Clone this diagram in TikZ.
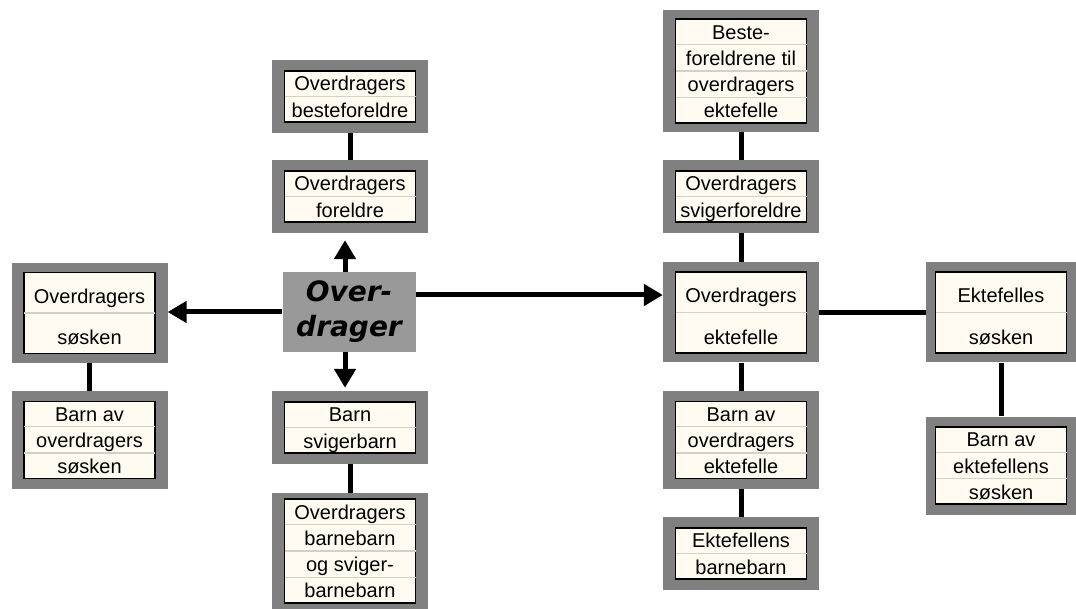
\documentclass[tikz,border=0pt]{standalone}
\usepackage{fontspec}
\setmainfont{Liberation Sans}
\newfontfamily\odfont{DejaVu Sans}
\usepackage{array}
\usepackage{colortbl}
\usetikzlibrary{arrows.meta}
\definecolor{framegray}{HTML}{808080}
\definecolor{cream}{HTML}{FFFBF0}
\definecolor{sepgray}{HTML}{D4D0C8}
\definecolor{odgray}{HTML}{999999}
\arrayrulecolor{sepgray}
\setlength{\arrayrulewidth}{1.2pt}
\renewcommand{\arraystretch}{0}
\newcolumntype{R}{>{\centering\arraybackslash\rule[-5pt]{0pt}{25pt}}p{131pt}}
\newcolumntype{T}{>{\centering\arraybackslash\rule[-9pt]{0pt}{40pt}}p{131pt}}
\newcommand{\rader}[2][R]{\begin{tabular}{@{}#1@{}}#2\end{tabular}}

\begin{document}
\begin{tikzpicture}[x=1pt, y=-1pt,
    frame/.style={fill=framegray, inner sep=0pt},
    inner/.style={fill=cream, draw=black, line width=1.5pt, inner sep=0pt, font=\fontsize{20}{25}\selectfont},
    rel/.style={line width=5pt},
    arr/.style={line width=5pt, -{Triangle[length=19pt, width=21pt]}}]
\useasboundingbox (0,0) rectangle (1076,609);
\foreach \nm/\cx/\cy/\bw/\bh/\txt in {
    bf/350/96.5/156/73/{\rader{Overdragers\\\hline besteforeldre}},
    for/350/196.5/156/73/{\rader{Overdragers\\\hline foreldre}},
    sos/89.5/313/156/100/{\rader[T]{Overdragers\\\hline s{\o}sken}},
    bsos/89.5/440/156/98/{\rader{Barn av\\\hline overdragers\\\hline s{\o}sken}},
    barn/350/427.5/156/73/{\rader{Barn\\\hline svigerbarn}},
    bb/350/551/156/116/{\rader{Overdragers\\\hline barnebarn\\\hline og sviger-\\\hline barnebarn}},
    bfe/741/71/156/122/{\rader{Beste-\\\hline foreldrene til\\\hline overdragers\\\hline ektefelle}},
    svf/741/196.5/156/73/{\rader{Overdragers\\\hline svigerforeldre}},
    ekt/741/312.5/156/100/{\rader[T]{Overdragers\\\hline ektefelle}},
    bekt/741/440/156/98/{\rader{Barn av\\\hline overdragers\\\hline ektefelle}},
    ebb/741/553.5/156/73/{\rader{Ektefellens\\\hline barnebarn}},
    esos/1001/312.5/150/100/{\rader[T]{Ektefelles\\\hline s{\o}sken}},
    besos/1001/465.5/150/98/{\rader{Barn av\\\hline ektefellens\\\hline s{\o}sken}}}
{
    \node[frame, minimum width=\bw pt, minimum height=\bh pt] (\nm) at (\cx,\cy) {};
    \node[inner] (\nm-in) at (\cx,\cy) {\txt};
}
\node[fill=odgray, minimum width=133pt, minimum height=80pt, inner sep=0pt, align=center,
    font=\odfont\fontsize{28}{35}\selectfont\bfseries\itshape] (od) at (349,312) {Over-\\drager};
\draw[arr, shorten >=7pt] ([xshift=-4pt]od.north) -- ([xshift=-4pt]od.north |- for.south);
\draw[arr, shorten >=3pt] ([xshift=-4pt]od.south) -- ([xshift=-4pt]od.south |- barn.north);
\draw[arr] (od.west) -- (od.west -| sos.east);
\draw[arr] ([yshift=17pt]od.east) -- ([yshift=17pt]od.east -| ekt.west);
\draw[rel] (bf) -- (for);
\draw[rel] (sos) -- (bsos);
\draw[rel] (barn) -- (bb);
\draw[rel] (bfe) -- (svf);
\draw[rel] (svf) -- (ekt);
\draw[rel] (ekt) -- (bekt);
\draw[rel] (bekt) -- (ebb);
\draw[rel] (ekt) -- (esos);
\draw[rel] (esos) -- (besos);
\end{tikzpicture}
\end{document}
